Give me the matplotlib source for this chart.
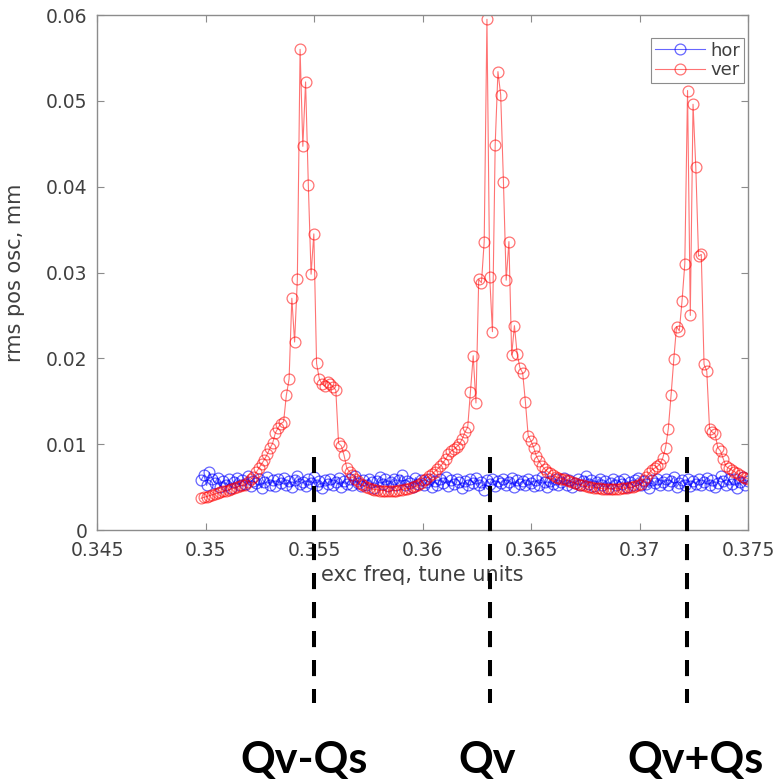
import numpy as np
import matplotlib
matplotlib.use("Agg")
import matplotlib.pyplot as plt
from matplotlib.transforms import blended_transform_factory

# excitation sweep, tune units
freq = np.linspace(0.3498, 0.375, 200)

# rms position oscillation, mm
hor = [
    0.0058, 0.0064, 0.0052, 0.0067, 0.0060, 0.0055, 0.0061, 0.0050, 0.0057, 0.0053,
    0.0059, 0.0049, 0.0056, 0.0061, 0.0052, 0.0058, 0.0054, 0.0063, 0.0051, 0.0057,
    0.0055, 0.0060, 0.0049, 0.0056, 0.0062, 0.0053, 0.0058, 0.0051, 0.0059, 0.0055,
    0.0061, 0.0052, 0.0057, 0.0050, 0.0058, 0.0063, 0.0054, 0.0056, 0.0051, 0.0059,
    0.0055, 0.0062, 0.0053, 0.0057, 0.0049, 0.0058, 0.0054, 0.0060, 0.0052, 0.0056,
    0.0061, 0.0050, 0.0057, 0.0054, 0.0059, 0.0052, 0.0063, 0.0055, 0.0051, 0.0058,
    0.0053, 0.0060, 0.0056, 0.0049, 0.0057, 0.0062, 0.0054, 0.0059, 0.0051, 0.0056,
    0.0060, 0.0053, 0.0058, 0.0064, 0.0052, 0.0057, 0.0055, 0.0050, 0.0061, 0.0054,
    0.0058, 0.0052, 0.0056, 0.0060, 0.0050, 0.0057, 0.0053, 0.0059, 0.0055, 0.0062,
    0.0051, 0.0058, 0.0054, 0.0060, 0.0056, 0.0049, 0.0057, 0.0053, 0.0059, 0.0055,
    0.0061, 0.0052, 0.0056, 0.0047, 0.0058, 0.0054, 0.0060, 0.0051, 0.0057, 0.0055,
    0.0059, 0.0053, 0.0056, 0.0061, 0.0050, 0.0058, 0.0054, 0.0057, 0.0052, 0.0060,
    0.0055, 0.0051, 0.0058, 0.0053, 0.0062, 0.0056, 0.0050, 0.0057, 0.0054, 0.0059,
    0.0052, 0.0056, 0.0061, 0.0053, 0.0058, 0.0050, 0.0055, 0.0059, 0.0052, 0.0057,
    0.0063, 0.0054, 0.0058, 0.0051, 0.0056, 0.0060, 0.0053, 0.0057, 0.0049, 0.0055,
    0.0059, 0.0052, 0.0057, 0.0054, 0.0060, 0.0050, 0.0056, 0.0053, 0.0058, 0.0061,
    0.0052, 0.0057, 0.0054, 0.0049, 0.0058, 0.0055, 0.0060, 0.0052, 0.0056, 0.0059,
    0.0053, 0.0057, 0.0062, 0.0050, 0.0055, 0.0058, 0.0053, 0.0060, 0.0051, 0.0057,
    0.0054, 0.0059, 0.0052, 0.0056, 0.0061, 0.0053, 0.0058, 0.0050, 0.0055, 0.0063,
    0.0057, 0.0052, 0.0059, 0.0054, 0.0060, 0.0049, 0.0056, 0.0062, 0.0053, 0.0057,
]

ver = [
    0.0037, 0.0038, 0.0039, 0.0040, 0.0041, 0.0042, 0.0043, 0.0044, 0.0045, 0.0046,
    0.0047, 0.0048, 0.0049, 0.0050, 0.0051, 0.0052, 0.0053, 0.0056, 0.0059, 0.0062,
    0.0067, 0.0072, 0.0077, 0.0082, 0.0088, 0.0095, 0.0101, 0.0113, 0.0119, 0.0124,
    0.0126, 0.0157, 0.0176, 0.0270, 0.0219, 0.0292, 0.0560, 0.0447, 0.0522, 0.0402,
    0.0298, 0.0345, 0.0194, 0.0176, 0.0170, 0.0168, 0.0173, 0.0170, 0.0167, 0.0163,
    0.0101, 0.0098, 0.0087, 0.0072, 0.0068, 0.0064, 0.0060, 0.0057, 0.0054, 0.0052,
    0.0050, 0.0049, 0.0048, 0.0047, 0.0047, 0.0046, 0.0046, 0.0046, 0.0045, 0.0046,
    0.0046, 0.0046, 0.0047, 0.0047, 0.0048, 0.0048, 0.0049, 0.0050, 0.0051, 0.0052,
    0.0055, 0.0058, 0.0060, 0.0063, 0.0065, 0.0068, 0.0071, 0.0074, 0.0078, 0.0083,
    0.0088, 0.0092, 0.0094, 0.0097, 0.0100, 0.0106, 0.0114, 0.0120, 0.0161, 0.0203,
    0.0148, 0.0292, 0.0288, 0.0336, 0.0595, 0.0295, 0.0231, 0.0449, 0.0534, 0.0507,
    0.0406, 0.0291, 0.0336, 0.0204, 0.0238, 0.0205, 0.0189, 0.0183, 0.0149, 0.0110,
    0.0104, 0.0096, 0.0086, 0.0080, 0.0075, 0.0071, 0.0068, 0.0066, 0.0064, 0.0062,
    0.0061, 0.0060, 0.0059, 0.0058, 0.0057, 0.0056, 0.0055, 0.0054, 0.0053, 0.0052,
    0.0051, 0.0050, 0.0050, 0.0049, 0.0049, 0.0049, 0.0048, 0.0048, 0.0048, 0.0048,
    0.0048, 0.0048, 0.0048, 0.0049, 0.0049, 0.0049, 0.0050, 0.0050, 0.0051, 0.0052,
    0.0054, 0.0058, 0.0062, 0.0066, 0.0070, 0.0072, 0.0074, 0.0077, 0.0084, 0.0096,
    0.0118, 0.0157, 0.0199, 0.0237, 0.0232, 0.0267, 0.0310, 0.0512, 0.0250, 0.0496,
    0.0423, 0.0319, 0.0321, 0.0193, 0.0185, 0.0118, 0.0114, 0.0112, 0.0096, 0.0092,
    0.0083, 0.0074, 0.0072, 0.0070, 0.0068, 0.0066, 0.0064, 0.0062, 0.0061, 0.0060,
]

# resonance markers drawn under the axis
res_x = [0.355, 0.36311, 0.37221]
res_labels = ["Qv-Qs", "Qv", "Qv+Qs"]
res_label_x = [0.35454, 0.36297, 0.37256]

xticks = [0.345, 0.35, 0.355, 0.36, 0.365, 0.37, 0.375]
xtick_labels = ["0.345", "0.35", "0.355", "0.36", "0.365", "0.37", "0.375"]
yticks = [0, 0.01, 0.02, 0.03, 0.04, 0.05, 0.06]
ytick_labels = ["0", "0.01", "0.02", "0.03", "0.04", "0.05", "0.06"]

W, H = 774, 781
fig = plt.figure(figsize=(W / 100, H / 100), dpi=100)
ax = fig.add_axes([97 / W, 1 - 530 / H, 651 / W, 515 / H])

text_col = "#404040"
axis_col = "#8c8c8c"

ax.plot(freq, hor, "-o", color="#0000ff", lw=0.8, ms=7.8, mfc="none", mew=0.9,
        alpha=0.6, label="hor")
ax.plot(freq, ver, "-o", color="#ff0000", lw=0.8, ms=7.8, mfc="none", mew=0.9,
        alpha=0.55, label="ver")

ax.set_xlim(0.345, 0.375)
ax.set_ylim(0, 0.06)
ax.set_xticks(xticks)
ax.set_xticklabels(xtick_labels)
ax.set_yticks(yticks)
ax.set_yticklabels(ytick_labels)
ax.tick_params(direction="in", length=5, width=0.8, color=axis_col,
               labelcolor=text_col, labelsize=13.5, top=True, right=True)
ax.tick_params(axis="x", pad=8)
ax.tick_params(axis="y", pad=7)
for s in ax.spines.values():
    s.set_color(axis_col)
    s.set_linewidth(1.0)

ax.set_xlabel("exc freq, tune units", fontsize=15, color=text_col)
ax.xaxis.set_label_coords(0.5, (530 - 565) / 515)
ax.set_ylabel("rms pos osc, mm", fontsize=15, color=text_col)
ax.yaxis.set_label_coords((25 - 97) / 651, 0.5)

leg = ax.legend(loc="upper right", bbox_to_anchor=((744 - 97) / 651, (530 - 38) / 515),
                borderaxespad=0, fontsize=13, handlelength=2.8, handletextpad=0.3,
                labelspacing=0.1, borderpad=0.2, fancybox=False, framealpha=1)
leg.get_frame().set_edgecolor(axis_col)
leg.get_frame().set_linewidth(0.8)
for t in leg.get_texts():
    t.set_color(text_col)

# dashed black resonance lines, running below the axes
y_top = (530 - 457) / 515 * 0.06
y_bot = (530 - 703) / 515 * 0.06
for x in res_x:
    ax.plot([x, x], [y_top, y_bot], color="black", lw=2.9,
            ls=(0, (4.0, 3.2)), clip_on=False, zorder=5,
            dash_capstyle="butt")

tr = blended_transform_factory(ax.transData, fig.transFigure)
for x, lab in zip(res_label_x, res_labels):
    ax.text(x, 1 - 760 / H, lab, transform=tr, ha="center", va="center",
            fontsize=31, fontweight="bold", family=["Lato", "DejaVu Sans"],
            color="black", clip_on=False)

fig.savefig("out.png", dpi=100)
